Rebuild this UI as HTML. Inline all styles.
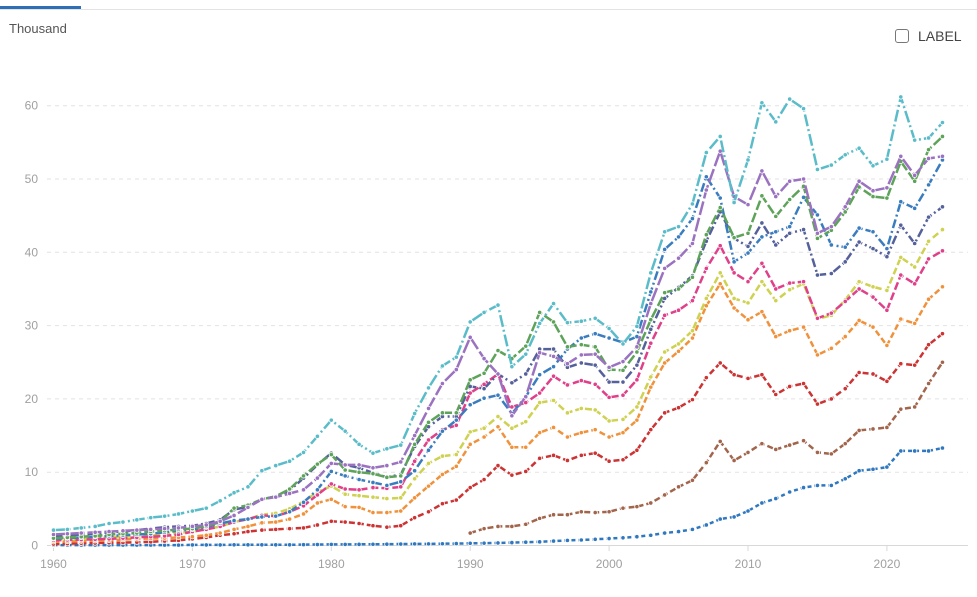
<!DOCTYPE html>
<html><head><meta charset="utf-8"><style>
html,body{margin:0;padding:0;background:#fff;width:977px;height:597px;overflow:hidden;font-family:"Liberation Sans",sans-serif}
#top-tab{position:absolute;left:0;top:6px;width:81px;height:3px;background:#2f6fb8}
#top-rule{position:absolute;left:0;top:9px;width:977px;height:1px;background:#e3e3e3}
#unit{position:absolute;left:9px;top:21px;font-size:13px;color:#555}
#lbl{position:absolute;left:895px;top:28px;font-size:14px;color:#444;display:flex;align-items:center}
#lbl span.box{width:12px;height:12px;border:1.5px solid #777;border-radius:3px;margin-right:9px;display:inline-block}
svg{position:absolute;left:0;top:0}
</style></head><body>
<div id="top-tab"></div>
<div id="top-rule"></div>
<div id="unit">Thousand</div>
<div id="lbl"><span class="box"></span>LABEL</div>
<svg id="chart" width="977" height="597"></svg>
<script>
const years = [];
for (let y = 1960; y <= 2024; y++) years.push(y);
const yTicks = [0,10,20,30,40,50,60];
const xTicks = [1960,1970,1980,1990,2000,2010,2020];
const sCyan = [2.1,2.2,2.4,2.6,3.0,3.2,3.5,3.8,4.0,4.3, 4.7,5.1,6.1,7.2,8.0,10.2,10.9,11.5,12.7,14.9, 17.1,15.6,13.8,12.6,13.2,13.7,18.0,21.5,24.5,25.7, 30.5,31.8,32.8,24.4,26.1,30.3,33.0,30.4,30.6,31.0, 29.6,27.5,29.9,37.2,42.8,43.5,46.6,53.6,55.8,46.8, 52.6,60.4,57.8,60.9,59.6,51.3,51.9,53.3,54.2,51.8, 52.7,61.2,55.3,55.6,57.7];
const sPurple = [1.5,1.6,1.7,1.8,1.9,2.0,2.1,2.2,2.3,2.4, 2.6,2.8,3.3,4.1,5.2,6.3,6.6,7.1,7.6,9.2, 11.2,11.0,11.0,10.6,10.9,11.4,15.0,18.7,22.1,24.0, 28.4,25.5,23.4,17.7,20.3,26.3,25.8,24.8,26.0,26.1, 24.3,25.1,27.1,33.0,37.8,39.2,41.2,48.5,53.8,47.6, 46.5,51.1,47.6,49.7,50.0,42.6,43.5,46.2,49.7,48.4, 48.8,53.1,50.5,52.8,53.1];
const sGreen = [1.0,1.1,1.2,1.3,1.5,1.6,1.7,1.9,2.0,2.2, 2.3,2.6,3.2,5.1,5.5,6.3,6.7,7.7,9.5,11.1, 12.4,10.3,10.0,9.8,9.3,9.5,13.8,16.8,18.1,18.1, 22.6,23.5,26.6,25.5,27.2,31.8,30.5,27.1,27.4,27.1, 24.0,23.9,26.4,30.8,34.5,35.0,36.6,42.4,46.1,42.0, 42.6,47.7,44.9,47.2,49.0,41.9,43.0,45.5,48.9,47.6, 47.4,52.4,49.7,54.0,55.8];
const sSlate = [1.3,1.4,1.5,1.6,1.8,1.9,2.1,2.3,2.5,2.6, 2.7,3.0,3.5,4.9,5.3,6.3,6.7,7.5,9.2,11.0, 12.6,11.0,10.6,9.9,9.3,9.7,13.5,16.2,17.6,17.6, 21.7,21.4,23.4,22.2,23.4,26.8,26.8,24.3,24.9,24.6, 22.3,22.3,24.6,29.5,33.7,35.2,36.8,41.5,45.5,41.9, 40.8,44.0,41.0,42.6,43.1,36.9,37.1,38.7,41.4,40.5, 39.4,43.7,41.2,44.8,46.2];
const sBlue = [0.9,1.0,1.1,1.2,1.3,1.4,1.5,1.6,1.8,2.0, 2.2,2.5,3.0,3.4,3.6,3.9,4.0,4.6,5.9,7.6, 10.1,9.5,9.0,8.6,8.2,8.7,10.2,13.0,15.6,17.1, 19.2,20.1,20.5,18.0,20.3,23.3,24.4,26.8,28.3,28.9, 28.3,27.7,28.5,34.6,40.4,42.1,44.6,50.3,47.4,38.7, 39.9,42.1,42.8,43.5,47.5,45.1,41.0,40.7,43.3,42.8, 40.5,46.9,46.0,49.2,52.6];
const sPink = [0.7,0.75,0.8,0.85,0.9,1.0,1.1,1.2,1.3,1.5, 1.9,2.2,2.6,3.2,3.6,4.1,4.0,4.6,5.4,6.9, 8.4,7.7,7.6,7.9,7.8,8.0,11.5,14.4,15.8,16.4, 20.8,22.0,23.4,18.9,19.5,20.8,23.1,21.9,22.5,22.0, 20.2,20.5,22.6,27.6,31.4,32.1,33.4,37.8,40.9,37.2, 36.0,38.5,35.0,35.8,36.0,31.0,31.7,33.3,35.0,33.9, 32.1,36.9,35.7,39.1,40.2];
const sYellow = [0.8,0.85,0.9,1.0,1.1,1.2,1.3,1.4,1.5,1.7, 1.9,2.2,2.6,3.2,3.6,4.2,4.4,5.0,6.0,7.3, 8.1,7.0,6.8,6.6,6.4,6.5,9.1,11.2,12.2,12.4, 15.5,16.0,17.6,16.0,16.9,19.5,19.8,18.1,18.7,18.5, 17.0,17.2,18.9,23.0,26.4,27.5,29.3,33.7,37.2,33.7, 33.1,36.0,33.4,34.9,35.7,30.9,31.4,33.5,36.0,35.3, 34.8,39.3,38.0,41.5,43.1];
const sOrange = [0.5,0.55,0.6,0.65,0.7,0.8,0.9,0.95,1.0,1.1, 1.2,1.4,1.7,2.2,2.6,3.1,3.2,3.6,4.3,5.8, 6.3,5.3,5.2,4.5,4.5,4.7,6.5,8.1,9.7,10.8, 13.8,14.8,16.2,13.4,13.4,15.4,16.1,14.8,15.4,15.8, 14.8,15.4,17.1,21.6,24.9,26.5,28.3,32.7,35.7,32.4, 30.8,31.9,28.5,29.3,29.8,26.0,26.9,28.5,30.7,29.8, 27.3,30.9,30.3,33.6,35.3];
const sRed = [0.2,0.25,0.3,0.33,0.37,0.4,0.45,0.5,0.6,0.7, 0.9,1.1,1.4,1.6,1.9,2.1,2.2,2.3,2.4,2.8, 3.3,3.2,3.0,2.7,2.5,2.7,3.8,4.6,5.7,6.2, 7.9,9.0,10.9,9.6,10.1,11.9,12.3,11.6,12.3,12.6, 11.5,11.7,13.0,15.8,18.1,18.8,19.9,22.9,24.9,23.3, 22.8,23.3,20.6,21.7,22.1,19.3,20.0,21.4,23.6,23.4, 22.4,24.8,24.6,27.4,28.9];
const sBrown = [null,null,null,null,null,null,null,null,null,null, null,null,null,null,null,null,null,null,null,null, null,null,null,null,null,null,null,null,null,null, 1.7,2.3,2.6,2.6,2.9,3.7,4.2,4.2,4.6,4.5, 4.6,5.1,5.3,5.8,6.9,8.0,8.9,11.3,14.2,11.6, 12.7,13.9,13.1,13.7,14.3,12.7,12.5,13.9,15.7,15.9, 16.1,18.6,18.9,22.1,25.0];
const sBottom = [0.05,0.05,0.05,0.05,0.05,0.05,0.05,0.05,0.05,0.05, 0.08,0.08,0.08,0.1,0.1,0.1,0.1,0.1,0.12,0.13, 0.15,0.15,0.16,0.17,0.18,0.2,0.22,0.22,0.24,0.26, 0.3,0.32,0.35,0.4,0.45,0.5,0.6,0.7,0.75,0.85, 0.95,1.05,1.2,1.4,1.7,1.9,2.2,2.8,3.6,3.9, 4.7,5.8,6.4,7.3,7.9,8.2,8.2,9.1,10.2,10.4, 10.7,12.9,12.9,12.9,13.3];

const NS = 'http://www.w3.org/2000/svg';
const svg = document.getElementById('chart');
const X0 = 53.5, XS = 13.89, Y0 = 545.5, YS = 7.33;
function xPos(yr){ return X0 + (yr - 1960) * XS; }
function yPos(v){ return Y0 - v * YS; }
function mk(tag, attrs){ const e = document.createElementNS(NS, tag); for (const k in attrs) e.setAttribute(k, attrs[k]); svg.appendChild(e); return e; }

yTicks.forEach(t => {
  if (t > 0) {
    const g = mk('line', {x1: 47, x2: 968, y1: yPos(t), y2: yPos(t), stroke: '#e2e2e2', 'stroke-width': 1, 'stroke-dasharray': '4,4'});
    
    
  }
  const l = mk('text', {x: 38, y: yPos(t) + 4, 'text-anchor': 'end', 'font-size': 12, fill: '#a0a0a0', 'font-family': 'Liberation Sans, sans-serif'});
  l.textContent = t;
  
  
});
const ax = mk('line', {x1: 47, x2: 968, y1: 545.5, y2: 545.5, stroke: '#d8d8d8', 'stroke-width': 1});


xTicks.forEach(t => {
  const tk = mk('line', {x1: xPos(t), x2: xPos(t), y1: 546, y2: 551, stroke: '#d8d8d8'});
  
  
  const l = mk('text', {x: xPos(t), y: 568, 'text-anchor': 'middle', 'font-size': 12, fill: '#a0a0a0', 'font-family': 'Liberation Sans, sans-serif'});
  l.textContent = t;
  
  
});

const seriesList = [
  ['bottom', sBottom, '#2f78c0', '4,3'],
  ['brown', sBrown, '#a2654c', '6,3'],
  ['red', sRed, '#cc3434', '6,3'],
  ['orange', sOrange, '#f0923c', '6,3'],
  ['yellow', sYellow, '#cfd150', '7,3'],
  ['pink', sPink, '#e0408a', '8,3'],
  ['slate', sSlate, '#55619a', '9,3,2,3'],
  ['blue', sBlue, '#3a7dbf', '9,3,2,3'],
  ['green', sGreen, '#5ea35a', '10,3'],
  ['purple', sPurple, '#9b72c0', '14,3'],
  ['cyan', sCyan, '#5bbcc9', '12,3,2,3']
];
seriesList.forEach(([name, vals, color, dash]) => {
  let d = '', started = false;
  vals.forEach((v, i) => {
    if (v === null) { started = false; return; }
    d += (started ? 'L' : 'M') + xPos(years[i]).toFixed(1) + ',' + yPos(v).toFixed(1);
    started = true;
  });
  const p = mk('path', {d: d, fill: 'none', stroke: color, 'stroke-width': 2.5, 'stroke-dasharray': dash, 'stroke-linejoin': 'round'});
  
  
  vals.forEach((v, i) => {
    if (v === null) return;
    const c = mk('circle', {cx: xPos(years[i]), cy: yPos(v), r: 2.2, fill: color, stroke: '#fff', 'stroke-width': 0.8});
    
    
  });
});
</script>
</body></html>
